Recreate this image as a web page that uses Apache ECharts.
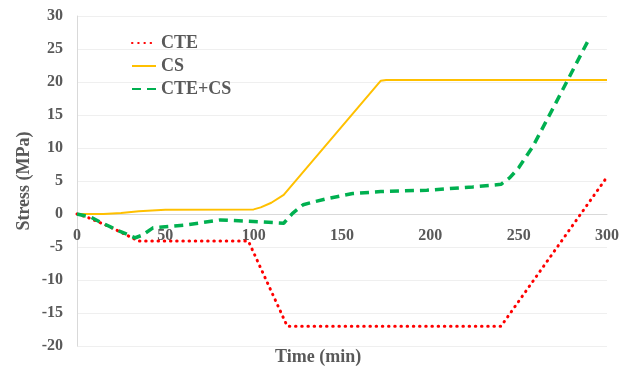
<!DOCTYPE html>
<html>
<head>
<meta charset="utf-8">
<script src="https://cdn.jsdelivr.net/npm/echarts@6/dist/echarts.min.js"></script>
<style>
  html, body { margin: 0; padding: 0; background: #fff; }
  #chart { width: 632px; height: 369px; }
</style>
</head>
<body>
<div id="chart"></div>
<script>
// data
var xTicks = [0, 50, 100, 150, 200, 250, 300]
var yTicks = [-20, -15, -10, -5, 0, 5, 10, 15, 20, 25, 30]

var cteTime = [0, 6, 19, 35, 97, 119, 240, 300]
var cteStress = [0, -0.5, -2.0, -4.1, -4.1, -17, -17, 5.6]

var csTime = [0, 15, 25, 35, 50, 100, 104, 110, 117, 172, 175, 300]
var csStress = [0, 0, 0.15, 0.4, 0.65, 0.7, 1.0, 1.7, 2.9, 20.2, 20.3, 20.3]

var sumTime = [0, 8, 13, 24, 33, 37, 43, 62, 81, 104, 117, 122, 128, 135, 141, 156, 172, 198, 224, 240, 245, 250, 258, 270, 289]
var sumStress = [0, -0.5, -1.2, -2.6, -3.6, -3.2, -2.1, -1.65, -0.9, -1.2, -1.4, 0.1, 1.4, 1.9, 2.3, 3.1, 3.4, 3.6, 4.1, 4.5, 5.5, 7.0, 10.2, 16.3, 26.1]

function pairs(xs, ys) {
  return xs.map(function (x, i) { return [x, ys[i]] })
}

var fontFam = '"Liberation Serif", "Times New Roman", serif'
var grey = '#595959'

var myChart = echarts.init(document.getElementById('chart'))
var option = {
  animation: false,
  grid: {
    top: 16,
    bottom: 23,
    left: 77,
    right: 25
  },
  title: {
    text: 'Time (min)',
    left: 275,
    top: 348,
    padding: 0,
    textStyle: {
      fontFamily: fontFam,
      fontWeight: 'bold',
      fontSize: 18,
      color: grey
    }
  },
  legend: {
    orient: 'vertical',
    left: 131,
    top: 34,
    padding: 0,
    itemWidth: 24,
    itemHeight: 14,
    itemGap: 5,
    itemStyle: { opacity: 0 },
    textStyle: {
      fontFamily: fontFam,
      fontWeight: 'bold',
      fontSize: 18,
      color: grey
    }
  },
  xAxis: {
    type: 'value',
    min: 0,
    max: 300,
    interval: 50,
    // axis sits on stress = 0 (grid is 330px tall, zero is 132px above the bottom)
    offset: -132,
    axisLine: { onZero: false, lineStyle: { color: '#d9d9d9', width: 1 } },
    axisTick: { show: false },
    splitLine: { show: false },
    axisLabel: {
      margin: 14,
      fontFamily: fontFam,
      fontWeight: 'bold',
      fontSize: 16,
      color: grey,
      formatter: function (v) { return xTicks.indexOf(v) >= 0 ? String(v) : '' }
    }
  },
  yAxis: {
    type: 'value',
    min: -20,
    max: 30,
    interval: 5,
    name: 'Stress (MPa)',
    nameLocation: 'middle',
    nameGap: 44,
    nameMoveOverlap: false,
    nameTextStyle: {
      fontFamily: fontFam,
      fontWeight: 'bold',
      fontSize: 18,
      color: grey
    },
    axisLine: { show: true, onZero: false, lineStyle: { color: '#d9d9d9', width: 1 } },
    axisTick: { show: false },
    splitLine: { lineStyle: { color: '#efefef', width: 1 } },
    axisLabel: {
      margin: 14,
      fontFamily: fontFam,
      fontWeight: 'bold',
      fontSize: 16,
      color: grey,
      formatter: function (v) { return yTicks.indexOf(v) >= 0 ? String(v) : '' }
    }
  },
  series: [
    {
      name: 'CTE',
      type: 'line',
      data: pairs(cteTime, cteStress),
      symbol: 'none',
      lineStyle: { color: '#ff0000', width: 3, type: [0.5, 5.7], cap: 'round' },
      itemStyle: { color: '#ff0000' },
      z: 3
    },
    {
      name: 'CS',
      type: 'line',
      data: pairs(csTime, csStress),
      symbol: 'none',
      lineStyle: { color: '#ffc000', width: 2 },
      itemStyle: { color: '#ffc000' },
      z: 2
    },
    {
      name: 'CTE+CS',
      type: 'line',
      data: pairs(sumTime, sumStress),
      symbol: 'none',
      lineStyle: { color: '#00b050', width: 3.5, type: [9, 6] },
      itemStyle: { color: '#00b050' },
      z: 4
    }
  ]
}
myChart.setOption(option)
</script>
</body>
</html>
